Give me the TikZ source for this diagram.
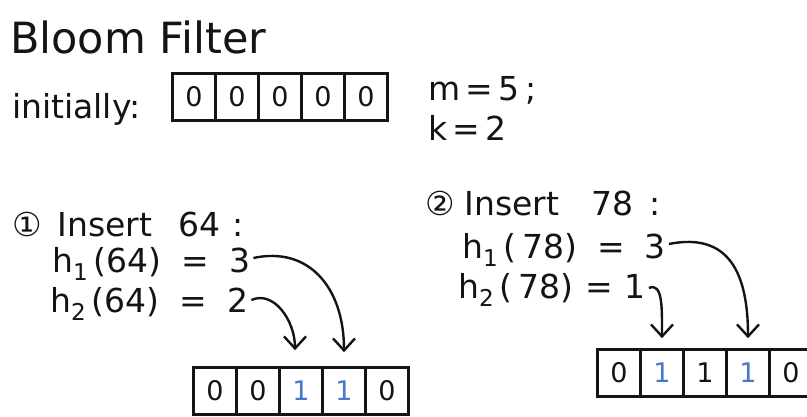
\documentclass[tikz,border=0pt]{standalone}
\usepackage{fontspec}
\setmainfont{DejaVu Sans}
\usepackage{tikz}
\usetikzlibrary{arrows.meta,positioning}
\definecolor{inkblack}{RGB}{20,20,20}
\definecolor{inkblue}{RGB}{70,120,210}

\begin{document}
\begin{tikzpicture}[
  x=1pt, y=-1pt,
  node distance=0pt,
  every node/.style={text=inkblack},
  label/.style={anchor=base west, inner sep=0pt, font=\fontsize{33}{38}\selectfont},
  cell/.style={rectangle, draw=inkblack, line width=2.6pt, minimum width=43pt,
    minimum height=47pt, inner sep=0pt, font=\fontsize{27}{31}\selectfont},
  one/.style={cell, text=inkblue},
  hook/.style={-{Straight Barb[length=12pt,width=22pt,line width=2.4pt]}, line width=2.4pt, draw=inkblack}
]
\clip (0,0) rectangle (807,416);
\fill[white] (0,0) rectangle (807,416);

\node[label, font=\fontsize{43}{48}\selectfont] (title) at (10,53) {Bloom Filter};
\node[label] (init) at (12,118) {initially:};
\node[cell] (i1) at (194,97) {0};
\node[cell, right=-2.6pt of i1] (i2) {0};
\node[cell, right=-2.6pt of i2] (i3) {0};
\node[cell, right=-2.6pt of i3] (i4) {0};
\node[cell, right=-2.6pt of i4] (i5) {0};
\node[label] (m) at (428,100) {m\,=\,5\,;};
\node[label] (k) at (428,140) {k\,=\,2};

\node[label] (ins1) at (12,236) {①\hspace{16pt}Insert\hspace{26pt}64\hspace{12pt}:};
\node[label] (h11) at (52,272) {h\textsubscript{1}\,(64)\hspace{20pt}=\hspace{20pt}3};
\node[label] (h21) at (50,312) {h\textsubscript{2}\,(64)\hspace{20pt}=\hspace{20pt}2};
\node[cell] (a1) at (215,391) {0};
\node[cell, right=-2.6pt of a1] (a2) {0};
\node[one, right=-2.6pt of a2] (a3) {1};
\node[one, right=-2.6pt of a3] (a4) {1};
\node[cell, right=-2.6pt of a4] (a5) {0};

\node[label] (ins2) at (425,215) {②\hspace{10pt}Insert\hspace{32pt}78\hspace{16pt}:};
\node[label] (h12) at (462,258) {h\textsubscript{1}\,(\,78)\hspace{20pt}=\hspace{20pt}3};
\node[label] (h22) at (458,298) {h\textsubscript{2}\,(\,78)\hspace{12pt}=\hspace{12pt}1};
\node[cell] (b1) at (619,373) {0};
\node[one, right=-2.6pt of b1] (b2) {1};
\node[cell, right=-2.6pt of b2] (b3) {1};
\node[one, right=-2.6pt of b3] (b4) {1};
\node[cell, right=-2.6pt of b4] (b5) {0};

\draw[hook] ([shift={(3,-14)}]h11.base east) .. controls +(55,-12) and +(0,-65) .. ([shift={(0,-14)}]a4.north);
\draw[hook] ([shift={(3,-12)}]h21.base east) .. controls +(22,-10) and +(0,-30) .. ([shift={(-6,-16)}]a3.north);
\draw[hook] ([shift={(3,-14)}]h12.base east) .. controls +(60,-12) and +(0,-65) .. ([shift={(0,-10)}]b4.north);
\draw[hook] ([shift={(3,-10)}]h22.base east) .. controls +(14,-6) and +(0,-30) .. ([shift={(0,-10)}]b2.north);
\end{tikzpicture}
\end{document}
